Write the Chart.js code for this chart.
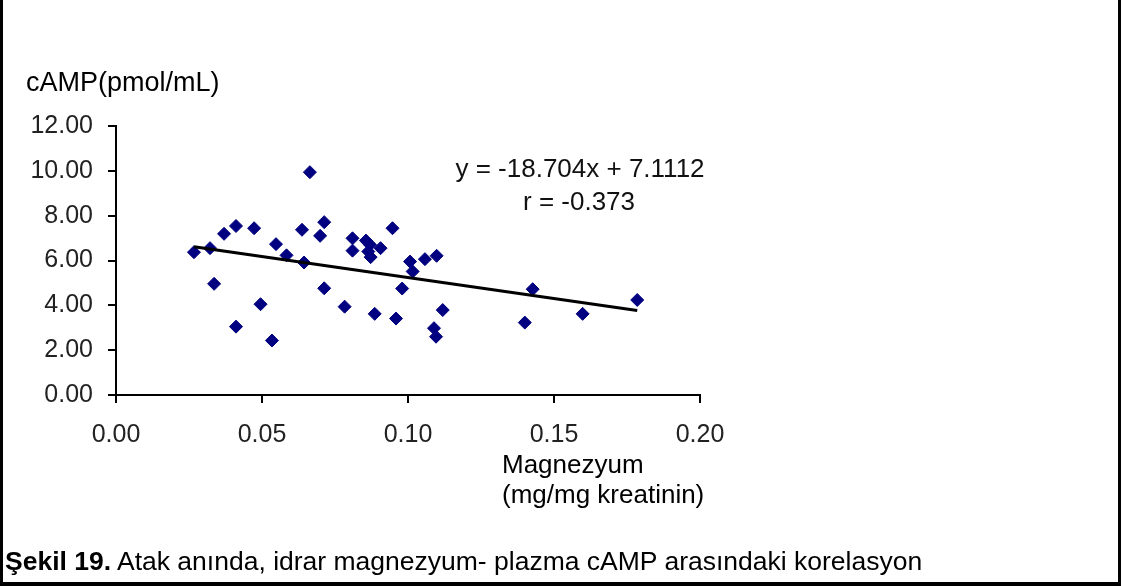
<!DOCTYPE html>
<html>
<head>
<meta charset="utf-8">
<script src="https://cdn.jsdelivr.net/npm/chart.js@4"></script>
<style>
  html, body { margin: 0; padding: 0; background: #fff; }
  #wrap { position: relative; width: 1124px; height: 586px; overflow: hidden; background: #fff; }
  #c { position: absolute; left: 0; top: 0; }
  #frame { position: absolute; left: 0; top: -4px; width: 1115px; height: 583px;
           border: 3px solid #000; border-bottom-width: 4px; pointer-events: none; }
  #caption { position: absolute; left: 5px; top: 546px; white-space: nowrap;
             font-family: "Liberation Sans", Arial, sans-serif;
             font-size: 26.5px; color: #000; }
  #caption b { font-weight: bold; }
</style>
</head>
<body>
<div id="wrap">
  <canvas id="c" width="1124" height="586"></canvas>
  <div id="frame"></div>
  <div id="caption"><b>Şekil 19.</b> Atak anında, idrar magnezyum- plazma cAMP arasındaki korelasyon</div>
</div>
<script>
// ---- data ----
const magnesium = [0.0267, 0.0322, 0.0336, 0.0370, 0.0411, 0.0411, 0.0473, 0.0495, 0.0534, 0.0548,
                   0.0584, 0.0637, 0.0644, 0.0664, 0.0699, 0.0713, 0.0713, 0.0783, 0.0810, 0.0810,
                   0.0856, 0.0870, 0.0864, 0.0872, 0.0906, 0.0947, 0.0886, 0.0959, 0.0980, 0.1007,
                   0.1016, 0.1058, 0.1098, 0.1119, 0.1089, 0.1096, 0.1427, 0.1400, 0.1598, 0.1785];
const camp      = [6.37, 6.55, 4.96, 7.19, 7.54, 3.05, 7.44, 4.05, 2.43, 6.73,
                   6.23, 7.37, 5.91, 9.94, 7.10, 7.71, 4.76, 3.94, 6.99, 6.44,
                   6.89, 6.70, 6.40, 6.15, 6.55, 7.44, 3.62, 3.41, 4.75, 5.95,
                   5.51, 6.06, 6.21, 3.79, 2.98, 2.60, 4.72, 3.23, 3.62, 4.24];
const slope = -18.704;
const intercept = 7.1112;
const xTicks = [0, 0.05, 0.10, 0.15, 0.20];
const yTicks = [0, 2, 4, 6, 8, 10, 12];
const yTitle = "cAMP(pmol/mL)";
const xTitle = ["Magnezyum", "(mg/mg kreatinin)"];
const equation = ["y = -18.704x + 7.1112", "r = -0.373"];

const points = magnesium.map((x, i) => ({ x: x, y: camp[i] }));
const xMin = Math.min(...magnesium), xMax = Math.max(...magnesium);
const trend = [xMin, xMax].map(x => ({ x: x, y: slope * x + intercept }));

const tickFont = { family: '"Liberation Sans", Arial, sans-serif', size: 25 };

const textPlugin = {
  id: 'texts',
  afterDraw(chart) {
    const ctx = chart.ctx;
    ctx.save();
    ctx.fillStyle = '#000';
    ctx.textBaseline = 'alphabetic';
    // y axis title (horizontal, above the axis)
    ctx.font = '27px "Liberation Sans", Arial, sans-serif';
    ctx.textAlign = 'left';
    ctx.fillText(yTitle, 26, 91);
    // regression equation
    ctx.font = '26px "Liberation Sans", Arial, sans-serif';
    ctx.fillStyle = '#111';
    ctx.textAlign = 'center';
    ctx.fillText(equation[0], 580, 177);
    ctx.fillText(equation[1], 579, 210);
    // x axis title
    ctx.fillStyle = '#000';
    ctx.font = '26px "Liberation Sans", Arial, sans-serif';
    ctx.textAlign = 'left';
    ctx.fillText(xTitle[0], 502, 473);
    ctx.fillText(xTitle[1], 502, 503);
    ctx.restore();
  }
};

new Chart(document.getElementById('c'), {
  type: 'scatter',
  data: {
    datasets: [
      {
        type: 'scatter',
        data: points,
        pointStyle: 'rectRot',
        pointRadius: 6.5,
        pointHoverRadius: 6.5,
        backgroundColor: '#000080',
        borderColor: '#000080',
        borderWidth: 1,
        order: 2
      },
      {
        type: 'line',
        data: trend,
        borderColor: '#000',
        borderWidth: 3,
        pointRadius: 0,
        fill: false,
        tension: 0,
        order: 1
      }
    ]
  },
  options: {
    responsive: false,
    animation: false,
    devicePixelRatio: 1,
    layout: { padding: { left: 0, top: 126, right: 424, bottom: 141 } },
    plugins: { legend: { display: false }, tooltip: { enabled: false }, title: { display: false } },
    scales: {
      x: {
        type: 'linear',
        min: 0, max: 0.2,
        afterBuildTicks: s => { s.ticks = xTicks.map(v => ({ value: v })); },
        afterFit: s => { s.height = 50; },
        ticks: { color: '#222', font: tickFont, padding: 17, maxRotation: 0,
                 callback: v => Number(v).toFixed(2) },
        grid: { display: true, drawOnChartArea: false, drawTicks: true, tickLength: 8,
                color: '#000', lineWidth: 2 },
        border: { display: true, color: '#000', width: 2 }
      },
      y: {
        type: 'linear',
        min: 0, max: 12,
        afterBuildTicks: s => { s.ticks = yTicks.map(v => ({ value: v })); },
        afterFit: s => { s.width = 116; },
        ticks: { color: '#222', font: tickFont, padding: 15,
                 callback: v => Number(v).toFixed(2) },
        grid: { display: true, drawOnChartArea: false, drawTicks: true, tickLength: 8,
                color: '#000', lineWidth: 2 },
        border: { display: true, color: '#000', width: 2 }
      }
    }
  },
  plugins: [textPlugin]
});
</script>
</body>
</html>
